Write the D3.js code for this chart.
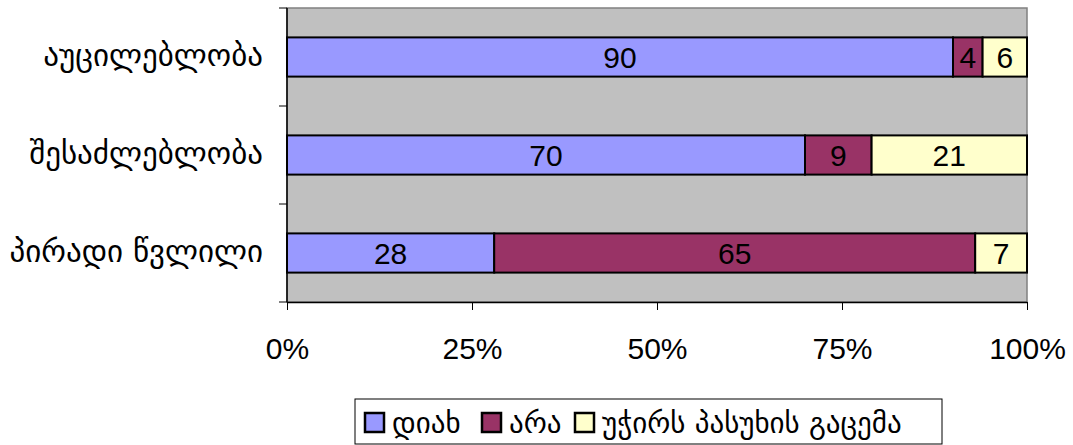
<!DOCTYPE html>
<html lang="ka">
<head>
<meta charset="UTF-8">
<title>chart</title>
<script src="https://d3js.org/d3.v7.min.js"></script>
<style>
  body { margin: 0; background: #fff; }
</style>
</head>
<body>
<div id="chart"></div>
<script>
// data
const categories = ["აუცილებლობა", "შესაძლებლობა", "პირადი წვლილი"];
const seriesNames = ["დიახ", "არა", "უჭირს პასუხის გაცემა"];
const yes = [90, 70, 28];
const no = [4, 9, 65];
const hard = [6, 21, 7];
const tickLabels = ["0%", "25%", "50%", "75%", "100%"];
const colors = ["#9999FF", "#993366", "#FFFFCC"];

const W = 1073, H = 445;
const margin = {top: 8, right: 46, bottom: 143, left: 287};
const width = W - margin.left - margin.right,
      height = H - margin.top - margin.bottom;

const geoFont = "'DejaVu Sans', sans-serif";
const numFont = "'Liberation Sans', Arial, sans-serif";

const svg = d3.select("#chart").append("svg")
    .attr("width", W).attr("height", H);
const g = svg.append("g")
    .attr("transform", `translate(${margin.left},${margin.top})`);

const x = d3.scaleLinear().domain([0, 100]).range([0, width]);
const y = d3.scaleBand().domain(categories).range([0, height]).paddingInner(0.6).paddingOuter(0.3);

// plot area
g.append("rect")
    .attr("width", width).attr("height", height)
    .attr("fill", "#C0C0C0")
    .attr("stroke", "#808080").attr("stroke-width", 1.5);

// stacked data
const rows = categories.map((c, i) => ({cat: c, vals: [yes[i], no[i], hard[i]]}));
const stack = d3.stack().keys([0, 1, 2]).value((d, k) => d.vals[k]);
const layers = stack(rows);

layers.forEach((layer, k) => {
  const lg = g.append("g");
  lg.selectAll("rect").data(layer).join("rect")
    .attr("x", d => x(d[0]))
    .attr("y", d => y(d.data.cat))
    .attr("width", d => x(d[1]) - x(d[0]))
    .attr("height", y.bandwidth())
    .attr("fill", colors[k])
    .attr("stroke", "#000").attr("stroke-width", 2);
  lg.selectAll("text").data(layer).join("text")
    .attr("x", d => (x(d[0]) + x(d[1])) / 2)
    .attr("y", d => y(d.data.cat) + y.bandwidth() / 2 + 11)
    .attr("text-anchor", "middle")
    .attr("font-family", numFont).attr("font-size", 30)
    .text(d => d[1] - d[0]);
});

// axes
const xAxis = g.append("g")
    .attr("transform", `translate(0,${height})`)
    .call(d3.axisBottom(x).tickValues([0, 25, 50, 75, 100])
      .tickFormat((d, i) => tickLabels[i]).tickSize(8).tickSizeOuter(0));
xAxis.select(".domain").attr("stroke", "#000").attr("stroke-width", 1.5);
xAxis.selectAll(".tick line").attr("stroke", "#000");
xAxis.selectAll("text").attr("font-family", numFont).attr("font-size", 30)
    .attr("fill", "#000").attr("y", 57).attr("dy", 0);

const yTicks = d3.range(categories.length + 1).map(i => i * height / categories.length);
const yAxisG = g.append("g");
yAxisG.append("line").attr("x1", 0).attr("x2", 0).attr("y1", 0).attr("y2", height)
    .attr("stroke", "#000").attr("stroke-width", 1.5);
yAxisG.selectAll("line.t").data(yTicks).join("line").attr("class", "t")
    .attr("x1", -8).attr("x2", 0).attr("y1", d => d).attr("y2", d => d)
    .attr("stroke", "#000");
yAxisG.selectAll("text").data(categories).join("text")
    .attr("x", -24)
    .attr("y", d => y(d) + y.bandwidth() / 2 + 9)
    .attr("text-anchor", "end")
    .attr("font-family", geoFont).attr("font-size", 31)
    .text(d => d);

// legend
const leg = svg.append("g").attr("transform", "translate(355,399)");
leg.append("rect").attr("width", 587).attr("height", 45)
    .attr("fill", "#fff").attr("stroke", "#000").attr("stroke-width", 1);
const legX = [10, 127, 220];
seriesNames.forEach((s, k) => {
  leg.append("rect").attr("x", legX[k]).attr("y", 14).attr("width", 19).attr("height", 19)
    .attr("fill", colors[k]).attr("stroke", "#000").attr("stroke-width", 2.5);
  leg.append("text").attr("x", legX[k] + 27).attr("y", 34)
    .attr("font-family", geoFont).attr("font-size", 29)
    .text(s);
});
</script>
</body>
</html>
